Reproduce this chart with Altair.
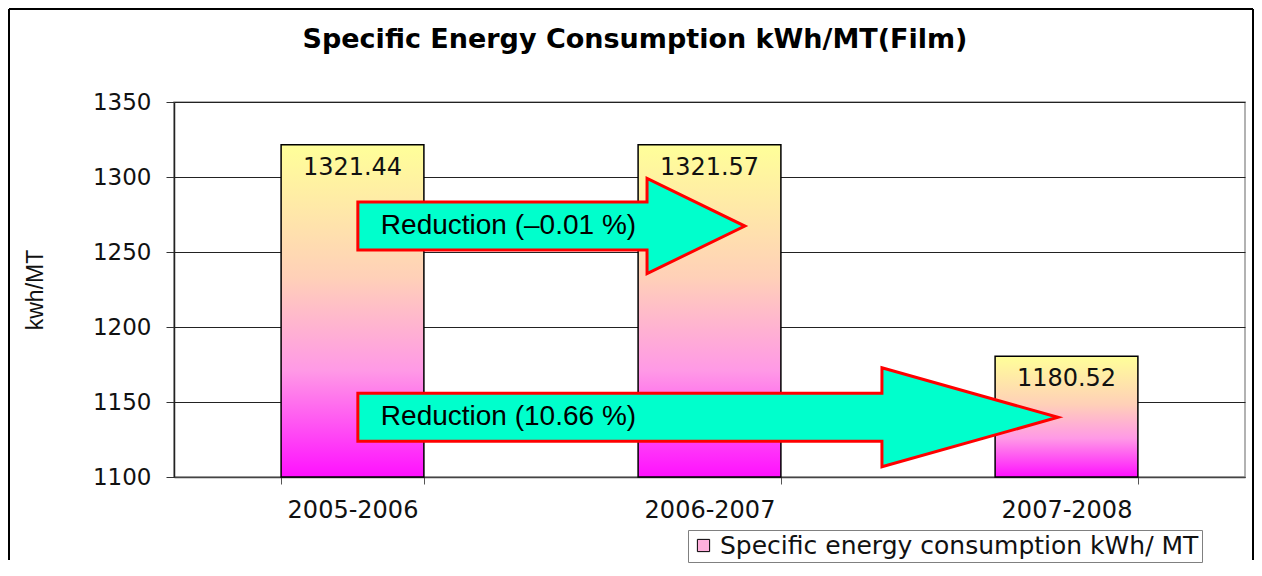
import altair as alt
import pandas as pd

# ---- data ----
years = ["2005-2006", "2006-2007", "2007-2008"]
consumption = [1321.44, 1321.57, 1180.52]
value_labels = ["1321.44", "1321.57", "1180.52"]
series_name = "Specific energy consumption kWh/ MT"

arrow_labels = ["Reduction (\u20130.01 %)", "Reduction (10.66 %)"]
arrow_level = [1267.3, 1139.8]          # kWh/MT level of each arrow's axis

# annotation geometry (category units on a 0..3 axis, kWh/MT half-heights)
arrow_start = [0.515, 0.515]
arrow_head = [1.325, 1.983]
arrow_tip = [1.599, 2.476]
body_half = [16, 16]
head_half = [31.7, 33]

bar_df = pd.DataFrame({
    "year": years,
    "value": consumption,
    "label": value_labels,
    "series": [series_name] * len(years),
})

rows = []
for i, lab in enumerate(arrow_labels):
    lv = arrow_level[i]
    rows += [
        {"arrow": i, "x": arrow_start[i], "top": lv + body_half[i], "bot": lv - body_half[i]},
        {"arrow": i, "x": arrow_head[i], "top": lv + body_half[i], "bot": lv - body_half[i]},
        {"arrow": i, "x": arrow_head[i] + 1e-4, "top": lv + head_half[i], "bot": lv - head_half[i]},
        {"arrow": i, "x": arrow_tip[i], "top": lv, "bot": lv},
    ]
arrow_df = pd.DataFrame(rows)
arrow_text_df = pd.DataFrame({"x": arrow_start, "y": arrow_level, "label": arrow_labels})

W, H = 1071, 375
yscale = alt.Scale(domain=[1100, 1350], nice=False, zero=False)
xband = alt.Scale(domain=years, paddingInner=0.6, paddingOuter=0.3)
xq = alt.Scale(domain=[0, 3], nice=False, zero=False)

gradient = alt.Gradient(
    gradient="linear",
    stops=[
        alt.GradientStop(color="#FFFF99", offset=0),
        alt.GradientStop(color="#FFD0B8", offset=0.4),
        alt.GradientStop(color="#FF99E6", offset=0.68),
        alt.GradientStop(color="#FF10FF", offset=1),
    ],
    x1=0, x2=0, y1=0, y2=1,
)

xaxis = alt.Axis(
    title=None, labelFont="DejaVu Sans", labelFontSize=24, labelColor="#111",
    labelPadding=14, tickSize=7, tickBand="extent", tickColor="#555",
    domainColor="#444", domainWidth=1.5, labelAngle=0, grid=False,
)
yaxis = alt.Axis(
    values=[1100, 1150, 1200, 1250, 1300, 1350], title=None, format="d",
    grid=True,
)

base = alt.Chart(bar_df).encode(x=alt.X("year:N", scale=xband, sort=years, axis=xaxis))

legend_bars = base.mark_bar().encode(
    y=alt.Y("value:Q", scale=yscale, axis=yaxis),
    y2=alt.Y2(datum=1100),
    fill=alt.Fill(
        "series:N",
        scale=alt.Scale(range=["#FFB0DC"]),
        legend=alt.Legend(
            title=None, orient="none", legendX=514, legendY=428,
            strokeColor="#808080", fillColor="white", padding=3,
            symbolType="square", symbolSize=150, symbolStrokeColor="black",
            symbolStrokeWidth=1, labelFont="DejaVu Sans", labelFontSize=25,
            labelColor="#111", labelLimit=700,
        ),
    ),
)
grad_bars = base.mark_bar(fill=gradient, stroke="black", strokeWidth=1.5).encode(
    y=alt.Y("value:Q", scale=yscale, axis=yaxis),
    y2=alt.Y2(datum=1100),
)
bar_labels = base.mark_text(
    baseline="top", dy=11, font="DejaVu Sans", fontSize=24, color="#111"
).encode(y=alt.Y("value:Q", scale=yscale, axis=yaxis), text="label:N")

bars_group = alt.layer(legend_bars, grad_bars, bar_labels)

arrow_area = alt.Chart(arrow_df).mark_area(
    fill="#00FFCC", stroke="#FF0000", strokeWidth=3, strokeJoin="miter",
    interpolate="linear", opacity=1,
).encode(
    x=alt.X("x:Q", scale=xq, axis=None),
    y=alt.Y("top:Q", scale=yscale, stack=None, axis=yaxis),
    y2="bot:Q",
    detail="arrow:N",
)
arrow_text = alt.Chart(arrow_text_df).mark_text(
    align="left", baseline="middle", dx=23, font="Liberation Sans",
    fontSize=28, color="black",
).encode(
    x=alt.X("x:Q", scale=xq, axis=None),
    y=alt.Y("y:Q", scale=yscale, axis=yaxis),
    text="label:N",
)
arrow_group = alt.layer(arrow_area, arrow_text)

one = alt.Data(values=[{"k": 0}])
title = alt.Chart(one).mark_text(
    text="Specific Energy Consumption kWh/MT(Film)", font="DejaVu Sans",
    fontSize=27, fontWeight="bold", color="black", align="center", baseline="middle",
).encode(x=alt.value(461), y=alt.value(-62))

y_title = alt.Chart(one).mark_text(
    text="kwh/MT", font="Liberation Sans", fontSize=23, color="#111",
    angle=270, align="center", baseline="middle",
).encode(x=alt.value(-138), y=alt.value(188))

border_l = alt.Chart(one).mark_rule(color="black", strokeWidth=2).encode(
    x=alt.value(-165), y=alt.value(-93), y2=alt.value(458))
border_r = alt.Chart(one).mark_rule(color="black", strokeWidth=2).encode(
    x=alt.value(1079), y=alt.value(-93), y2=alt.value(458))
border_t = alt.Chart(one).mark_rule(color="black", strokeWidth=2).encode(
    x=alt.value(-165), x2=alt.value(1079), y=alt.value(-93))

chart = alt.layer(
    bars_group, arrow_group, title, y_title, border_l, border_r, border_t
).resolve_scale(x="independent").properties(
    width=W, height=H, padding=0
).configure_view(
    stroke="#999", strokeWidth=1.5
).configure_axisY(
    labelFont="DejaVu Sans", labelFontSize=23, labelColor="#111", labelPadding=15,
    tickSize=8, tickColor="#333", domainColor="#222", domainWidth=1.5,
    gridColor="#222", gridWidth=1,
)

chart.save("out.html", embed_options={"renderer": "svg", "actions": False})
